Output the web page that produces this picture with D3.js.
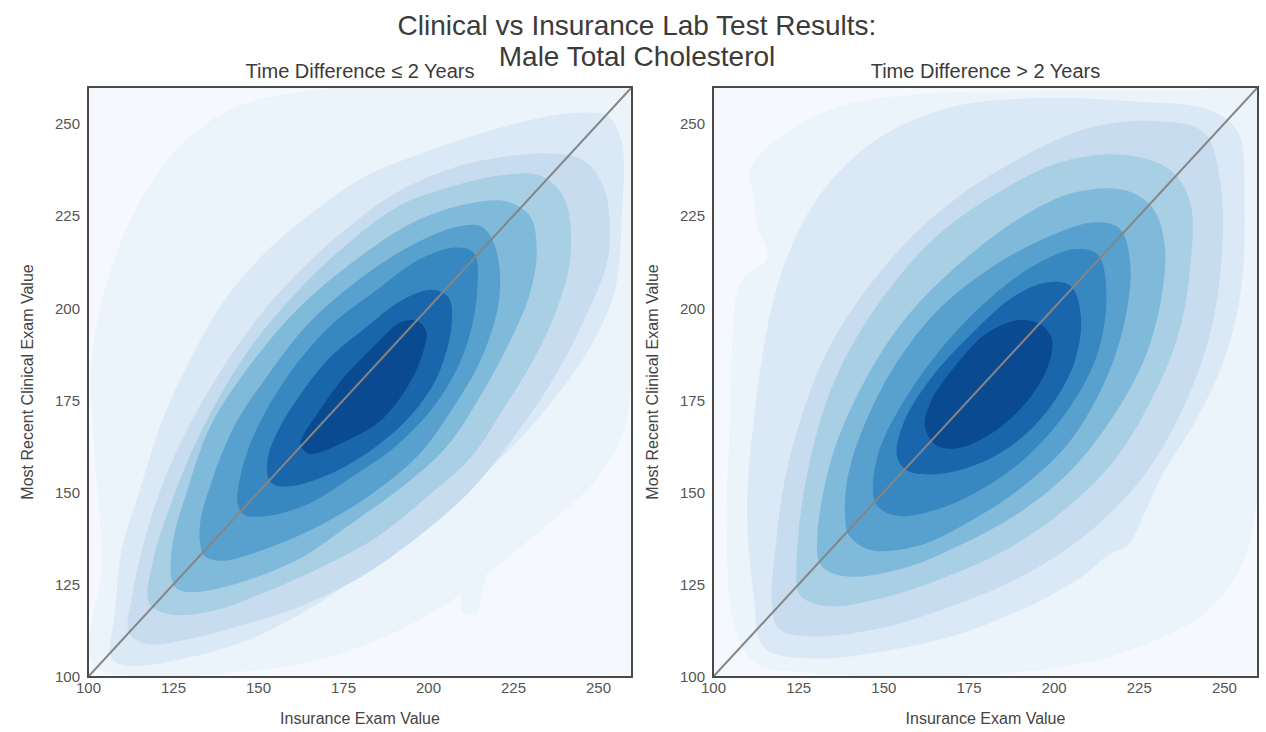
<!DOCTYPE html>
<html>
<head>
<meta charset="utf-8">
<script src="https://cdn.jsdelivr.net/npm/d3@7"></script>
<style>
	html, body { margin: 0; padding: 0; background: #fff; }
	svg text { font-family: "Liberation Sans Narrow", "Arial Narrow", "Liberation Sans", Arial, sans-serif; }
	.tick text { fill: #555; font-size: 15px; }
</style>
</head>
<body>
<svg id="chart" width="1266" height="732"></svg>
<script>
'use strict';

// Titles
var mainTitle = ['Clinical vs Insurance Lab Test Results:', 'Male Total Cholesterol'];
var panelTitles = ['Time Difference \u2264 2 Years', 'Time Difference > 2 Years'];
var xLabel = 'Insurance Exam Value';
var yLabel = 'Most Recent Clinical Exam Value';

// Axis domain and ticks (same for both axes)
var valueDomain = [100, 260];
var tickValues = [100, 125, 150, 175, 200, 225, 250];

// Blues fill colours, background first, then density levels 1..9
var levelColors = ['#f5f9fe', '#ebf3fb', '#dbe9f6', '#c7dcef', '#a9cfe5', '#80badb', '#58a1cf', '#3787c0', '#1966ac', '#0a4a90'];

// Contour rings: [level, [[insurance, clinical], ...]]
var nearRings = [
	[1, [[101,104],[104,130],[102,160],[101,185],[105,205],[113,225],[125,242],[142,254],[165,259],[200,260],[240,260],[259,259],[260,200],[258,168],[249,153],[236,142],[220,130],[204,119],[185,110],[165,104],[140,101],[115,100]]],
	[1, [[210,118],[211,127],[214,133],[217,131],[216,123],[214,117]]],
	[2, [[107,105],[108,118],[110,135],[115,150],[122,170],[130,186],[140,202],[152,215],[166,226],[182,236],[198,242],[214,247],[230,251],[244,253],[253,252],[257,245],[257,225],[255,205],[248,190],[235,173],[220,158],[203,144],[185,131],[166,119],[147,110],[128,105],[112,103]]],
	[3, [[112,112],[113,122],[116,135],[121,150],[128,165],[137,180],[148,195],[160,208],[174,220],[190,231],[207,238],[222,241],[236,242],[246,240],[252,232],[253,214],[246,197],[237,181],[226,166],[213,151],[197,138],[180,127],[162,119],[145,114],[128,110],[117,109]]],
	[4, [[118,120],[124,117],[137,118],[152,123],[169,130],[185,138],[200,149],[213,160],[222,172.5],[231,186],[238,200],[242,215],[240,230],[233,236],[221,236],[207,233],[192,228],[177,218],[161,204],[146,187],[133,166],[124,146],[119,131]]],
	[5, [[124.5,127],[126,124],[131,123],[146,126],[162,132],[178,142],[193,152],[205,162],[214,174],[223,189],[230,204],[232,216],[230,225],[223,229],[210,228],[195,223],[180,214],[163,201],[148,185],[136,168],[129,150],[125,137]]],
	[6, [[133,136],[134,133],[139,131.5],[153,135],[168,141],[184,150],[197,160],[207,172.5],[216,187],[221,203],[220,216],[216,222],[208,222],[194,216.5],[180,208],[165,196],[153,182],[143,168],[136,152],[133,142]]],
	[7, [[144,147],[146,144],[153,143.7],[165,147],[178,154.5],[191,163],[203,175],[211,189],[214.5,205],[213.5,215],[208,216.5],[197,213],[185,205],[171,195],[159,182],[150,168],[145.5,157]]],
	[8, [[153,154],[155,152],[160,151.8],[171,155],[184,162],[195,171],[203,182],[207,196],[206,203],[201,205],[192,202],[182,195],[171,186.5],[162,176],[156,167],[153,160]]],
	[9, [[162.5,163],[165,160.5],[173.5,163],[186,169.5],[194.5,179.5],[198.5,188],[199.5,193.5],[197,196.5],[192,196.2],[184,189.6],[174.5,180.4],[167.3,171.2],[163.3,165.5]]]
];

var farRings = [
	[1, [[111,238],[122,248],[138,255],[160,258],[200,259],[240,259],[259,259],[260,150],[255,130],[245,118],[230,110],[210,104],[185,101],[160,100],[130,101],[112,104],[106,115],[104,140],[105,170],[106,195],[108,207],[116,214],[113,222],[112,230]]],
	[2, [[115,108],[112,122],[110,145],[112,170],[116,195],[121,212],[128,226],[138,238],[152,248],[172,255],[200,257],[225,256],[245,254],[254,248],[256,230],[255,205],[250,186],[242,170],[232,155],[226,143],[222,136],[216,133],[208,127],[190,118],[170,111],[150,107],[130,105]]],
	[3, [[117.3,119],[119.4,113],[128.6,111],[148,113],[168,118.5],[190,127],[210,139],[226,154],[237,171],[245,190],[249,210],[249,234],[244,247.8],[228.6,250.8],[210,248.8],[190,240.6],[169.4,228.4],[151,212],[133.7,188.6],[122.4,159],[118.4,135.5]]],
	[4, [[124.5,129.4],[125.5,122.2],[133.7,119.2],[150,121.5],[168,127],[187,135],[204,146],[218,159],[228,174],[236,191],[240,210],[240,229],[234,237.6],[220.4,241.6],[202,239.6],[183.7,231.4],[165.3,219.2],[149,201.8],[135.7,180.4],[127.6,154.9]]],
	[5, [[130.6,137.6],[131.6,130.4],[138.8,127.3],[156,129.5],[172,135.5],[189,144],[204,155],[217,170],[227,187],[232,205],[232.5,218],[229,227.3],[221,232],[206,231.4],[189.8,224.3],[173.5,213],[157,197.8],[144,179.4],[134.7,159]]],
	[6, [[138.8,143.7],[139.8,138.6],[146,134.5],[160,135.5],[175,142],[190,151],[204,163],[215,180],[221,197],[222.5,212],[219.5,221.5],[212,223.3],[198,219.2],[181.6,211],[165.3,198.8],[152,182.4],[143,165],[139.3,153]]],
	[7, [[147,151.8],[148,146.7],[154,143.7],[166,145.5],[180,151.5],[193,160.5],[205,173.5],[213,188],[215.5,204],[213,214.5],[206,216],[195,212],[181.6,203],[168.4,190.6],[157,176.3],[149,162]]],
	[8, [[154,160],[157,156],[165.3,155],[177,157.5],[188,163],[198,172],[206,185],[208,198],[205,206],[198,207],[188,203],[175.5,192.7],[164.3,181.4],[156,169]]],
	[9, [[162.2,168.2],[165.3,163],[171.4,162],[181.6,166],[191.8,174.3],[198,183.5],[199.5,191.6],[196,195.7],[189,196.7],[179.6,192.7],[170.4,183.5],[164.3,175.3]]]
];

var svg = d3.select('#chart');

// Main title, two lines
svg.append('text')
	.attr('x', 637)
	.attr('y', 35)
	.attr('text-anchor', 'middle')
	.style('font-size', '28px')
	.style('fill', '#3b3b3b')
	.selectAll('tspan')
	.data(mainTitle)
	.join('tspan')
	.attr('x', 637)
	.attr('dy', function(d, i) { return i ? 31 : 0; })
	.text(function(d) { return d; });

var panels = [
	{left: 88, right: 632, rings: nearRings, title: panelTitles[0], id: 'near'},
	{left: 713, right: 1258, rings: farRings, title: panelTitles[1], id: 'far'}
];
var plotTop = 87, plotBottom = 677;

panels.forEach(function(p) {

	var x = d3.scaleLinear().domain(valueDomain).range([p.left, p.right]);
	var y = d3.scaleLinear().domain(valueDomain).range([plotBottom, plotTop]);

	var line = d3.line()
		.x(function(d) { return x(d[0]); })
		.y(function(d) { return y(d[1]); })
		.curve(d3.curveCatmullRomClosed.alpha(0.5));

	svg.append('clipPath')
		.attr('id', 'clip-' + p.id)
		.append('rect')
		.attr('x', p.left)
		.attr('y', plotTop)
		.attr('width', p.right - p.left)
		.attr('height', plotBottom - plotTop);

	var g = svg.append('g').attr('clip-path', 'url(#clip-' + p.id + ')');

	// Lowest shaded level fills the whole axes.
	g.append('rect')
		.attr('x', p.left)
		.attr('y', plotTop)
		.attr('width', p.right - p.left)
		.attr('height', plotBottom - plotTop)
		.attr('fill', levelColors[0]);

	g.selectAll('path.level')
		.data(p.rings)
		.join('path')
		.attr('class', 'level')
		.attr('d', function(d) { return line(d[1]); })
		.attr('fill', function(d) { return levelColors[d[0]]; });

	// Identity line
	g.append('line')
		.attr('x1', x(valueDomain[0]))
		.attr('y1', y(valueDomain[0]))
		.attr('x2', x(valueDomain[1]))
		.attr('y2', y(valueDomain[1]))
		.attr('stroke', '#858585')
		.attr('stroke-width', 2);

	// Frame
	svg.append('rect')
		.attr('x', p.left)
		.attr('y', plotTop)
		.attr('width', p.right - p.left)
		.attr('height', plotBottom - plotTop)
		.attr('fill', 'none')
		.attr('stroke', '#4a4a4a')
		.attr('stroke-width', 2);

	// Axes, tick labels only
	var xAxis = svg.append('g')
		.attr('transform', 'translate(0,' + plotBottom + ')')
		.call(d3.axisBottom(x).tickValues(tickValues).tickSize(0).tickPadding(5));
	xAxis.select('.domain').remove();

	var yAxis = svg.append('g')
		.attr('transform', 'translate(' + p.left + ',0)')
		.call(d3.axisLeft(y).tickValues(tickValues).tickSize(0).tickPadding(8));
	yAxis.select('.domain').remove();

	// Panel title
	svg.append('text')
		.attr('x', (p.left + p.right) / 2)
		.attr('y', 78)
		.attr('text-anchor', 'middle')
		.style('font-size', '20px')
		.style('fill', '#3b3b3b')
		.text(p.title);

	// Axis labels
	svg.append('text')
		.attr('x', (p.left + p.right) / 2)
		.attr('y', 724)
		.attr('text-anchor', 'middle')
		.style('font-size', '16px')
		.style('fill', '#444')
		.text(xLabel);

	svg.append('text')
		.attr('transform', 'translate(' + (p.left - 55) + ',' + ((plotTop + plotBottom) / 2) + ') rotate(-90)')
		.attr('text-anchor', 'middle')
		.style('font-size', '16px')
		.style('fill', '#444')
		.text(yLabel);
});
</script>
</body>
</html>
